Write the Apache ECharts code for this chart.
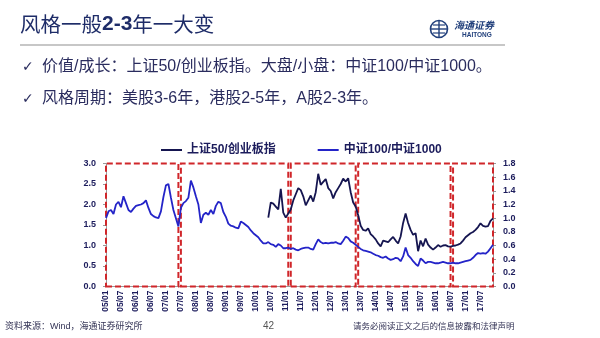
<!DOCTYPE html>
<html>
<head>
<meta charset="utf-8">
<script src="https://cdn.jsdelivr.net/npm/echarts@6/dist/echarts.min.js"></script>
<style>
html,body{margin:0;padding:0;background:#fff;}
#chart{width:600px;height:338px;}
</style>
</head>
<body>
<div id="chart"></div>
<script>
// ---- Data ----
const startYear = 2005, startMonth = 1, monthCount = 156; // 2005-01 .. 2017-12
const seriesNames = ['上证50/创业板指', '中证100/中证1000'];
// 中证100/中证1000 (right axis), monthly from 2005-01
const csi100_1000 = [
  1.00,1.10,1.12,1.06,1.20,1.24,1.16,1.32,1.22,1.12,
  1.09,1.14,1.18,1.19,1.20,1.22,1.26,1.15,1.06,1.03,
  1.01,1.00,1.10,1.31,1.48,1.50,1.30,1.12,1.00,0.88,
  1.15,1.22,1.25,1.30,1.55,1.45,1.32,1.20,0.93,1.05,
  1.08,1.05,1.12,1.06,1.18,1.24,1.22,1.09,1.02,0.92,
  0.89,0.88,0.86,0.85,0.95,0.93,0.90,0.87,0.82,0.78,
  0.75,0.72,0.67,0.63,0.63,0.65,0.62,0.61,0.58,0.62,
  0.60,0.56,0.56,0.57,0.55,0.56,0.54,0.53,0.55,0.56,
  0.57,0.57,0.55,0.54,0.62,0.69,0.65,0.63,0.64,0.63,
  0.64,0.64,0.65,0.63,0.62,0.67,0.73,0.71,0.66,0.64,
  0.61,0.58,0.55,0.53,0.52,0.51,0.50,0.48,0.46,0.45,
  0.43,0.42,0.44,0.41,0.39,0.40,0.42,0.41,0.37,0.44,
  0.57,0.46,0.42,0.37,0.33,0.30,0.41,0.38,0.34,0.36,
  0.36,0.35,0.34,0.34,0.35,0.36,0.35,0.34,0.34,0.35,
  0.34,0.34,0.35,0.36,0.37,0.38,0.39,0.42,0.46,0.49,
  0.48,0.49,0.48,0.51,0.56,0.61
];
// 上证50/创业板指 (left axis), monthly from 2010-06
const sz50CybStart = '2010-06';
const sz50_cyb = [
  1.68,2.05,2.02,1.95,1.88,2.38,1.80,1.68,1.78,1.88,
  2.10,2.25,2.40,2.35,2.20,1.98,2.10,2.22,2.07,2.30,
  2.75,2.48,2.55,2.62,2.40,2.33,2.15,2.30,2.40,2.50,
  2.63,2.56,2.64,2.30,2.05,1.95,1.74,1.48,1.38,1.36,
  1.42,1.28,1.22,1.15,1.05,0.98,1.12,1.10,1.08,1.15,
  1.21,1.12,1.05,1.22,1.55,1.78,1.55,1.38,1.26,1.30,
  0.86,1.12,0.98,1.17,1.02,0.95,0.90,0.95,1.01,0.97,
  1.00,1.01,0.98,0.97,0.99,1.00,1.02,1.05,1.12,1.20,
  1.25,1.30,1.33,1.38,1.45,1.54,1.48,1.46,1.47,1.60,
  1.66
];
// style regimes (red dashed boxes)
const regimes = [
  ['2005-01','2007-06'],
  ['2007-07','2011-02'],
  ['2011-03','2013-05'],
  ['2013-06','2016-07'],
  ['2016-08','2017-12']
];
const leftTicks = {min:0, max:3.0, interval:0.5};
const rightTicks = {min:0, max:1.8, interval:0.2};

// ---- Build categories ----
const months = [];
for (let i = 0; i < monthCount; i++) {
  const y = startYear + Math.floor((startMonth - 1 + i) / 12);
  const m = (startMonth - 1 + i) % 12 + 1;
  months.push(y + '-' + (m < 10 ? '0' + m : m));
}
const darkStartIdx = months.indexOf(sz50CybStart);
const darkData = sz50_cyb.map((v, i) => [months[darkStartIdx + i], v]);

const navy = '#1c1c5c';
const labelFont = {color: navy, fontWeight: 'bold', fontFamily: 'Liberation Sans, Arial, sans-serif'};

const chart = echarts.init(document.getElementById('chart'), null, {renderer: 'canvas'});
chart.setOption({
  backgroundColor: '#fff',
  animation: false,
  grid: {left: 106, right: 107, top: 163.5, bottom: 51.5},
  legend: {
    left: 156, top: 139, icon: 'rect', itemWidth: 21, itemHeight: 2, itemGap: 42,
    textStyle: {color: navy, fontSize: 12, fontWeight: 'bold', fontFamily: 'Liberation Sans, Noto Sans CJK SC, sans-serif'},
    data: seriesNames
  },
  xAxis: {
    type: 'category', data: months, boundaryGap: false,
    axisLine: {show: true, lineStyle: {color: '#999'}},
    axisTick: {show: false},
    axisLabel: Object.assign({
      interval: 5, rotate: 90, fontSize: 8.5, margin: 4,
      formatter: v => v.slice(2, 4) + '/' + v.slice(5, 7)
    }, labelFont),
    splitLine: {show: false}
  },
  yAxis: [
    {
      type: 'value', min: leftTicks.min, max: leftTicks.max, interval: leftTicks.interval,
      axisLine: {show: true, lineStyle: {color: '#999'}},
      axisTick: {show: true, length: 3, lineStyle: {color: '#999'}},
      axisLabel: Object.assign({fontSize: 9, margin: 10, formatter: v => v.toFixed(1)}, labelFont),
      splitLine: {show: false}
    },
    {
      type: 'value', min: rightTicks.min, max: rightTicks.max, interval: rightTicks.interval,
      axisLine: {show: true, lineStyle: {color: '#999'}},
      axisTick: {show: true, length: 3, lineStyle: {color: '#999'}},
      axisLabel: Object.assign({fontSize: 9, margin: 10, formatter: v => v.toFixed(1)}, labelFont),
      splitLine: {show: false}
    }
  ],
  series: [
    {
      name: seriesNames[0], type: 'line', yAxisIndex: 0, data: darkData,
      showSymbol: false, symbol: 'none', color: '#151550',
      lineStyle: {width: 1.8, color: '#151550'}, z: 3
    },
    {
      name: seriesNames[1], type: 'line', yAxisIndex: 1, data: csi100_1000,
      showSymbol: false, symbol: 'none', color: '#2424c8',
      lineStyle: {width: 1.8, color: '#2424c8'}, z: 2,
      markArea: {
        silent: true,
        itemStyle: {color: 'rgba(0,0,0,0)', borderColor: '#d0262a', borderWidth: 2, borderType: [6, 3]},
        data: regimes.map(r => [{xAxis: r[0]}, {xAxis: r[1]}])
      }
    }
  ],
  graphic: [
    {type: 'text', left: 20, top: 14, style: {
      text: '{a|风格一般}{b|2-3}{a|年一大变}',
      rich: {
        a: {fontSize: 20.5, fontFamily: 'Noto Sans CJK SC', fill: '#1e2c68'},
        b: {fontSize: 21, fontWeight: 'bold', fontFamily: 'Liberation Sans', fill: '#1e2c68'}
      }
    }},
    {type: 'line', shape: {x1: 20, y1: 45, x2: 505, y2: 45}, style: {stroke: '#b4b4b4', lineWidth: 1.5}},
    // logo
    {type: 'circle', shape: {cx: 439, cy: 29, r: 8.5}, style: {stroke: '#22407c', fill: 'none', lineWidth: 1.6}},
    {type: 'line', shape: {x1: 431, y1: 29, x2: 447, y2: 29}, style: {stroke: '#22407c', lineWidth: 1.4}},
    {type: 'line', shape: {x1: 439, y1: 21, x2: 439, y2: 37}, style: {stroke: '#22407c', lineWidth: 1.4}},
    {type: 'line', shape: {x1: 433, y1: 25, x2: 445, y2: 25}, style: {stroke: '#22407c', lineWidth: 1.2}},
    {type: 'line', shape: {x1: 433, y1: 33, x2: 445, y2: 33}, style: {stroke: '#22407c', lineWidth: 1.2}},
    {type: 'text', left: 454, top: 20, style: {text: '海通证券', fontSize: 10, fontStyle: 'italic', fontWeight: 'bold', fontFamily: 'Noto Sans CJK SC', fill: '#22407c'}},
    {type: 'text', left: 462, top: 32, style: {text: 'HAITONG', fontSize: 6.5, fontWeight: 'bold', fontFamily: 'Liberation Sans', fill: '#22407c'}},
    // bullets
    {type: 'text', left: 22, top: 60, style: {text: '✓', fontSize: 14, fontFamily: 'DejaVu Sans', fill: '#2a2c5e'}},
    {type: 'text', left: 42, top: 59, style: {
      text: '价值/成长：上证50/创业板指。大盘/小盘：中证100/中证1000。',
      fontSize: 16, fontFamily: 'Liberation Sans, Noto Sans CJK SC', fill: '#2a2c5e'}},
    {type: 'text', left: 22, top: 92, style: {text: '✓', fontSize: 14, fontFamily: 'DejaVu Sans', fill: '#2a2c5e'}},
    {type: 'text', left: 42, top: 91, style: {
      text: '风格周期：美股3-6年，港股2-5年，A股2-3年。',
      fontSize: 16, fontFamily: 'Liberation Sans, Noto Sans CJK SC', fill: '#2a2c5e'}},
    // footer
    {type: 'text', left: 5, top: 322, style: {text: '资料来源：Wind，海通证券研究所', fontSize: 9, fontFamily: 'Liberation Sans, Noto Sans CJK SC', fill: '#333355'}},
    {type: 'text', left: 263, top: 321, style: {text: '42', fontSize: 10, fontFamily: 'Liberation Sans', fill: '#555'}},
    {type: 'text', left: 353, top: 322, style: {text: '请务必阅读正文之后的信息披露和法律声明', fontSize: 8.5, fontFamily: 'Noto Sans CJK SC', fill: '#333355'}}
  ]
});
</script>
</body>
</html>
